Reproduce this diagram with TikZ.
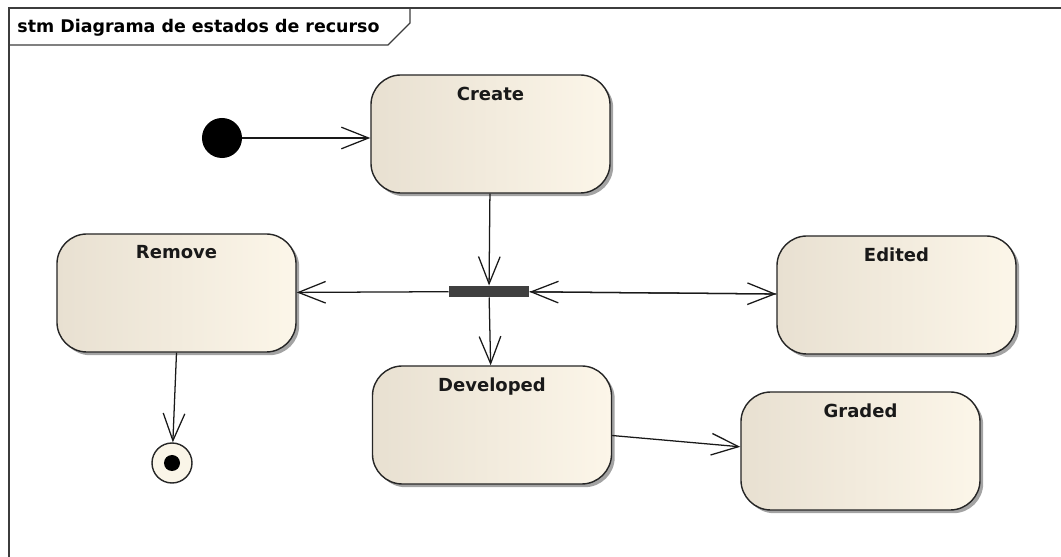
\documentclass[tikz,border=0pt]{standalone}
\usepackage{fontspec}
\setmainfont{DejaVu Sans}
\usetikzlibrary{positioning,calc,arrows.meta,shadows}
\definecolor{stateleft}{RGB}{232,224,209}
\definecolor{stateright}{RGB}{252,246,233}
\definecolor{finalfill}{RGB}{250,245,232}
\definecolor{forkgrey}{RGB}{64,64,64}
\definecolor{framegrey}{RGB}{60,60,60}
\begin{document}
\begin{tikzpicture}[x=0.025cm, y=-0.025cm, line width=0.7pt,
  font=\fontsize{12.8}{15}\selectfont\bfseries]

% states, arrows and pseudo states
\tikzset{
  statename/.style={anchor=north, yshift=-0.3cm, inner sep=0pt, text=black!90},
  state/.style={draw=black!85, line width=1pt, rounded corners=0.75cm,
                minimum width=5.975cm, minimum height=2.95cm,
                left color=stateleft, right color=stateright,
                drop shadow={shadow xshift=0.08cm, shadow yshift=-0.08cm,
                             fill=black!60, opacity=0.6},
                label={[statename]north:#1}},
  trans/.style={-{Straight Barb[length=0.68cm,width=0.54cm]}, draw=black!90, line width=0.9pt},
}

\useasboundingbox (0,0) rectangle (1061,557);
\clip (0,0) rectangle (1061,557);

% -----------------------------------------
% frame with name tab
% -----------------------------------------
\draw[framegrey, line width=1.2pt] (9,600) -- (9,8) -- (1100,8);
\draw[framegrey, line width=0.9pt] (9,45) -- (388,45) -- (410,23) -- (410,8);
\node[anchor=west, inner sep=0pt, font=\fontsize{12.4}{15}\selectfont\bfseries] (title) at (17,28) {stm Diagrama de estados de recurso};

% -----------------------------------------
% states
% -----------------------------------------
\node[state=Create]    (create)    at (490.5,134) {};
\node[state=Remove]    (remove)    at (176.5,293) {};
\node[state=Edited]    (edited)    at (896.5,295) {};
\node[state=Developed] (developed) at (492,425)   {};
\node[state=Graded]    (graded)    at (860.5,451) {};

% initial, fork and final
\node[circle, fill=black, minimum size=1cm, inner sep=0pt] (init) at (222,138) {};
\node[rectangle, fill=forkgrey, minimum width=2cm, minimum height=0.275cm, inner sep=0pt] (fork) at (489,291.5) {};
\node[circle, draw=black!85, line width=1pt, fill=finalfill, minimum size=1cm, inner sep=0pt,
      path picture={\fill[black] (path picture bounding box.center) circle (0.2cm);}] (final) at (172,463) {};

% -----------------------------------------
% transitions
% -----------------------------------------
\draw[trans] (init) -- (init -| create.west);
\draw[trans] (create) -- (fork);
\draw[trans] (fork) -- (remove);
\draw[trans] (fork) -- (edited);
\draw[trans] (edited) -- (fork);
\draw[trans] (fork) -- (developed);
\draw[trans] (remove.south) -- (final);
\draw[trans] (developed.-5) -- (graded.178.6);
\end{tikzpicture}
\end{document}
